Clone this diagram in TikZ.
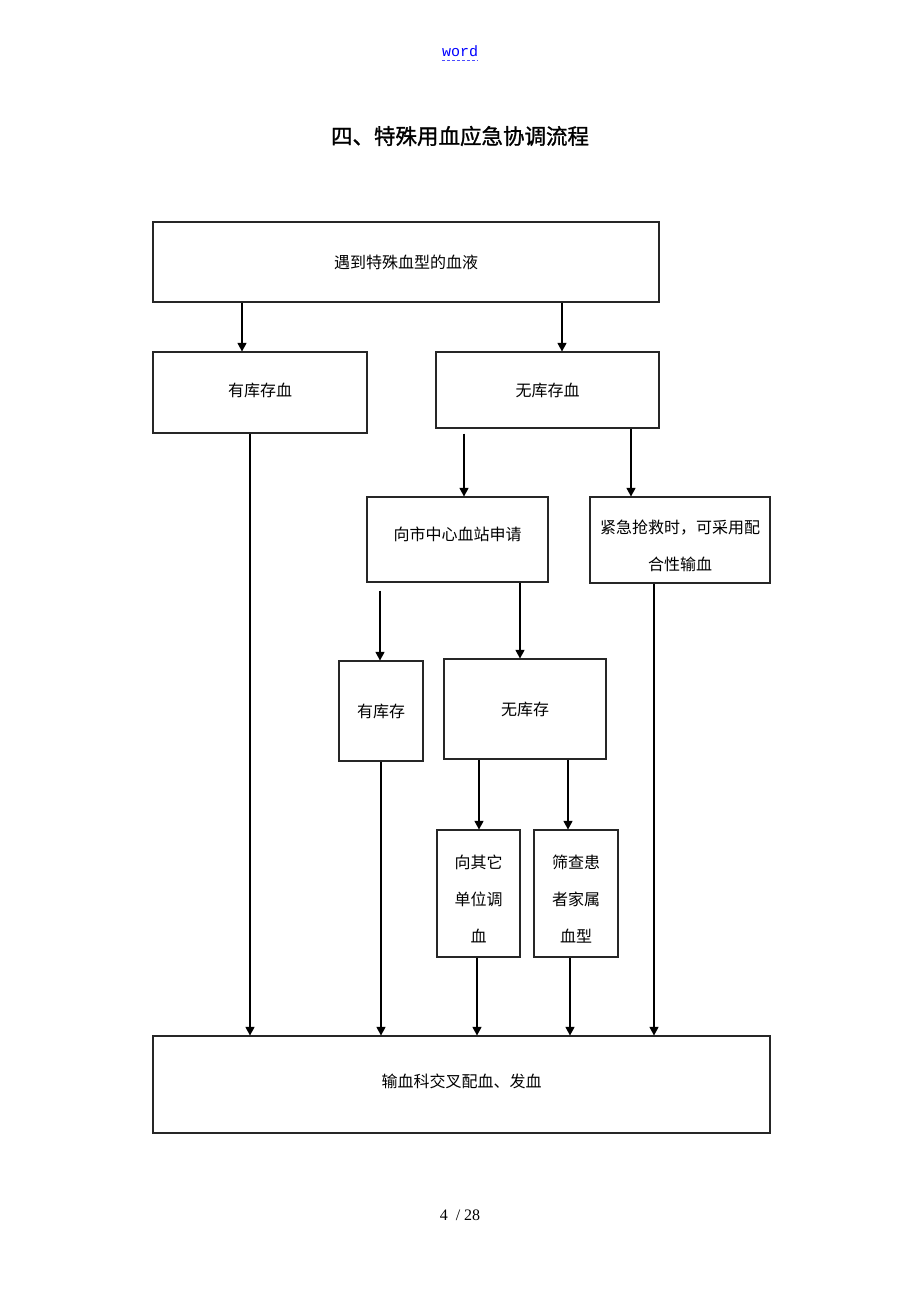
\documentclass[tikz,border=0pt]{standalone}
\usepackage{fontspec}
\setmainfont{Liberation Serif}
\newfontfamily\cjk{Noto Sans CJK SC}
\newfontfamily\cjktitle[FakeBold=1.2]{Noto Sans CJK SC}
\newfontfamily\wordfont{Liberation Mono}
\usetikzlibrary{arrows.meta}
\tikzset{
  stepbox/.style = {shape=rectangle, draw=black!85, line width=1.1pt,
                    align=center, inner sep=0pt,
                    font=\cjk\fontsize{16}{37}\selectfont},
  arr/.style     = {draw=black, line width=1.1pt,
                    -{Triangle[length=8.5pt,width=9pt]}},
  pagetext/.style = {inner sep=0pt}
}

\begin{document}
\begin{tikzpicture}[x=1pt, y=-1pt]
 \useasboundingbox (0,0) rectangle (920,1302);

 \node[pagetext, text=blue, font=\wordfont\fontsize{15}{18}\selectfont] (word) at (460,51) {word};
 \draw[blue!70, line width=1pt, dash pattern=on 3pt off 2pt]
   ([yshift=-4pt]word.south west) -- ([yshift=-4pt]word.south east);
 \node[pagetext, font=\cjktitle\fontsize{21.5}{26}\selectfont] (title) at (460,136) {四、特殊用血应急协调流程};

 \node[stepbox, minimum width=506, minimum height=80] (meet) at (406,262) {遇到特殊血型的血液};
 \node[stepbox, minimum width=214, minimum height=81] (haskc) at (260,392.5) {\raisebox{5pt}{有库存血}};
 \node[stepbox, minimum width=223, minimum height=76] (nokc) at (547.5,390) {无库存血};
 \node[stepbox, minimum width=181, minimum height=85] (center) at (457.5,539.5) {\raisebox{11pt}{向市中心血站申请}};
 \node[stepbox, minimum width=180, minimum height=86] (urgent) at (680,540) {\rule{0pt}{25pt}紧急抢救时，可采用配\\合性输血};
 \node[stepbox, minimum width=84, minimum height=100] (hasst) at (381,711) {有库存};
 \node[stepbox, minimum width=162, minimum height=100] (nost) at (525,709) {无库存};
 \node[stepbox, minimum width=83, minimum height=127] (other) at (478.5,893.5) {\rule{0pt}{24pt}向其它\\单位调\\血};
 \node[stepbox, minimum width=84, minimum height=127] (family) at (576,893.5) {\rule{0pt}{24pt}筛查患\\者家属\\血型};
 \node[stepbox, minimum width=617, minimum height=97] (xmatch) at (461.5,1084.5) {\raisebox{7pt}{输血科交叉配血、发血}};

 \draw[arr] (meet.south -| 242,0) -- (haskc.north -| 242,0);
 \draw[arr] (meet.south -| 562,0) -- (nokc.north -| 562,0);
 \draw[arr, shorten <=5pt] (nokc.south -| 464,0) -- (center.north -| 464,0);
 \draw[arr] (nokc.south -| 631,0) -- (urgent.north -| 631,0);
 \draw[arr, shorten <=8pt] (center.south -| 380,0) -- (hasst.north -| 380,0);
 \draw[arr] (center.south -| 520,0) -- (nost.north -| 520,0);
 \draw[arr] (nost.south -| 479,0) -- (other.north -| 479,0);
 \draw[arr] (nost.south -| 568,0) -- (family.north -| 568,0);

 \draw[arr] (haskc.south -| 250,0) -- (xmatch.north -| 250,0);
 \draw[arr] (hasst.south -| 381,0) -- (xmatch.north -| 381,0);
 \draw[arr] (other.south -| 477,0) -- (xmatch.north -| 477,0);
 \draw[arr] (family.south -| 570,0) -- (xmatch.north -| 570,0);
 \draw[arr] (urgent.south -| 654,0) -- (xmatch.north -| 654,0);

 \node[pagetext, font=\fontsize{16}{19}\selectfont] (page) at (460,1215) {4\ \ / 28};
\end{tikzpicture}
\end{document}
